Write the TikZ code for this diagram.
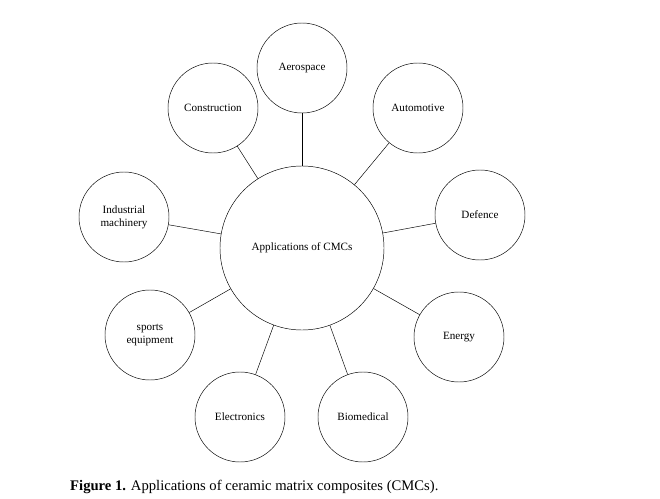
\documentclass[tikz,border=0pt]{standalone}
\usepackage{fontspec}
\setmainfont{Liberation Serif}
\usetikzlibrary{positioning}
\tikzstyle{hub} = [circle, draw=black, minimum size=4.92cm, text centered, font=\fontsize{9.5}{11}\selectfont]
\tikzstyle{app} = [circle, draw=black, minimum size=2.7cm, align=center, font=\fontsize{9.5}{11}\selectfont]
\tikzstyle{spoke} = [draw=black]

\begin{document}
\begin{tikzpicture}[x=0.03cm, y=-0.03cm]
  \useasboundingbox (0,0) rectangle (660,499);
  %中心与应用
  \node (cmc) [hub] at (302,248) {Applications of CMCs};
  \node (aero) [app] at (302,68) {Aerospace};
  \node (cons) [app] at (213,108) {Construction};
  \node (auto) [app] at (418,108) {Automotive};
  \node (def) [app] at (480,215) {Defence};
  \node (ener) [app] at (459,337) {Energy};
  \node (bio) [app] at (363,417) {Biomedical};
  \node (elec) [app] at (240,417) {Electronics};
  \node (sport) [app] at (150,335) {sports\\equipment};
  \node (ind) [app] at (124,217) {Industrial\\machinery};

  %连线
  \foreach \n in {aero, cons, auto, def, ener, bio, elec, sport, ind}
    \draw [spoke] (cmc) -- (\n);

  \node (cap) [anchor=west, inner sep=0pt, font=\fontsize{12.5}{14}\selectfont] at (70,487) {\textbf{Figure 1.} Applications of ceramic matrix composites (CMCs).};
\end{tikzpicture}
\end{document}
